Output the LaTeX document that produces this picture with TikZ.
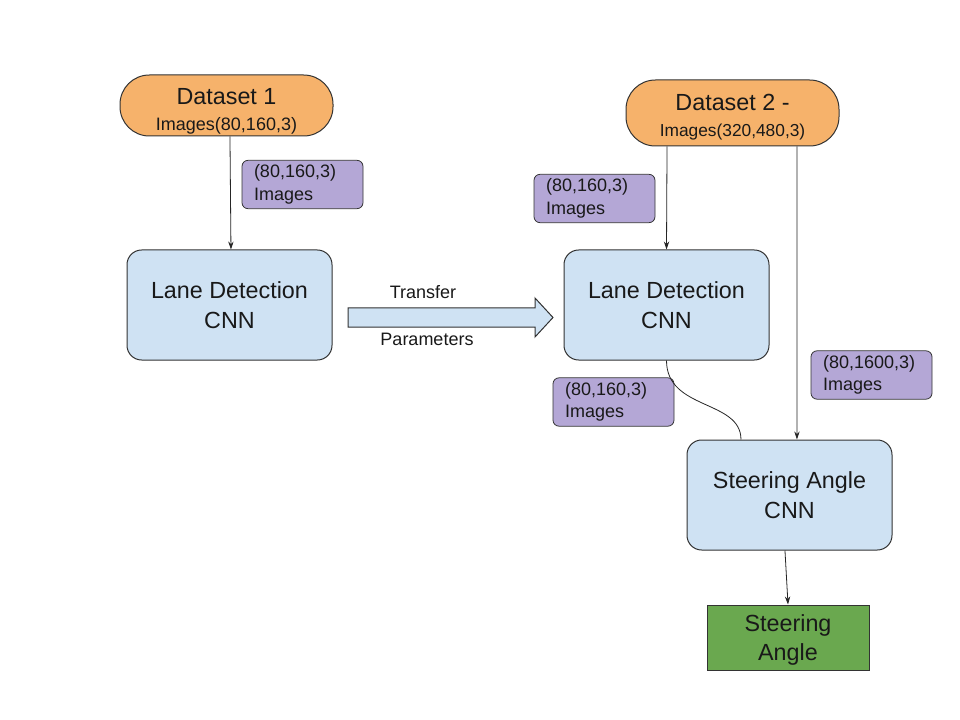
\documentclass[tikz,border=0pt]{standalone}
\usepackage{fontspec}
\setmainfont{Liberation Sans}
\usetikzlibrary{arrows.meta,calc}
\definecolor{dsorange}{HTML}{F6B26B}
\definecolor{lblue}{HTML}{CFE2F3}
\definecolor{lpurple}{HTML}{B4A7D6}
\definecolor{sgreen}{HTML}{6AA84F}
\definecolor{edge}{HTML}{333333}
\begin{document}
\begin{tikzpicture}[x=0.75pt,y=-0.75pt,
  dsbox/.style={draw=edge,line width=0.75pt,fill=dsorange,rounded corners=22pt,inner sep=0pt},
  dstext/.style={align=center,inner sep=0pt,text=black!90,font=\fontsize{17.5}{19.5}\selectfont},
  cnnbox/.style={draw=edge,line width=0.75pt,fill=lblue,rounded corners=11pt,minimum width=153.75pt,minimum height=82.5pt,align=center,inner sep=0pt,font=\fontsize{17.5}{22}\selectfont,text=black!90},
  lblbox/.style={draw=edge,line width=0.6pt,fill=lpurple,rounded corners=4.5pt,text width=72.75pt,inner xsep=9pt,minimum height=33.75pt,align=left,font=\fontsize{13.5}{17}\selectfont,text=black!90},
  arr/.style={draw=black!85,line width=0.6pt,-{Stealth[length=6pt,width=4pt]}},
  plainline/.style={draw=black!85,line width=0.6pt}]
\useasboundingbox[fill=white] (0,0) rectangle (960,720);

% Datasets
\node[dsbox,minimum width=159.75pt,minimum height=45.75pt] (ds1) at (226.5,105.5) {};
\node[dstext] (ds1t) at (226.5,111) {Dataset 1\\{\fontsize{13.5}{19.5}\selectfont Images(80,160,3)}};
\node[dsbox,minimum width=159.75pt,minimum height=49.5pt] (ds2) at (732.5,113) {};
\node[dstext] (ds2t) at (732.5,117.5) {Dataset 2 -\\{\fontsize{13}{19.5}\selectfont Images(320,480,3)}};

% CNN boxes
\node[cnnbox] (ld1) at (229.5,305) {Lane Detection\\CNN};
\node[cnnbox] (ld2) at (666.5,305) {Lane Detection\\CNN};
\node[cnnbox] (sa) at (789.5,495) {Steering Angle\\CNN};

% Output
\node[draw=edge,line width=0.75pt,fill=sgreen,minimum width=121.5pt,minimum height=48.75pt,inner sep=0pt] (out) at (788,637.5) {};
\node[align=center,inner sep=0pt,font=\fontsize{17.5}{21.5}\selectfont,text=black!90] (outt) at (788,640) {Steering\\Angle};

% Labels
\node[lblbox] (l1) at (302.5,184.5) {(80,160,3)\\Images};
\node[lblbox] (l2) at (594.5,198.5) {(80,160,3)\\Images};
\node[lblbox] (l3) at (613.5,402) {(80,160,3)\\Images};
\node[lblbox] (l4) at (871.5,375) {(80,1600,3)\\Images};

% Transfer block arrow
\draw[draw=edge,line width=0.75pt,fill=lblue] (348,308) -- (535,308) -- (535,298) -- (553,317.5) -- (535,337) -- (535,327) -- (348,327) -- cycle;
\node[font=\fontsize{13.5}{16}\selectfont,text=black!90] (tr) at (423,292) {Transfer};
\node[font=\fontsize{13.5}{16}\selectfont,text=black!90] (pa) at (427,339) {Parameters};

% Connectors
\draw[arr] ([xshift=2.6pt]ds1.south) -- ([xshift=1.1pt]ld1.north);
\draw[arr] ([xshift=-49.1pt]ds2.south) -- ([xshift=0pt]ld2.north);
\draw[arr] ([xshift=48.4pt]ds2.south) -- ([xshift=5.6pt]sa.north);
\draw[plainline] (ld2.south) .. controls +(0,50) and +(0,-40) .. ([xshift=-36.4pt]sa.north);
\draw[arr] ([xshift=-3.4pt]sa.south) -- (out.north);
\end{tikzpicture}
\end{document}
